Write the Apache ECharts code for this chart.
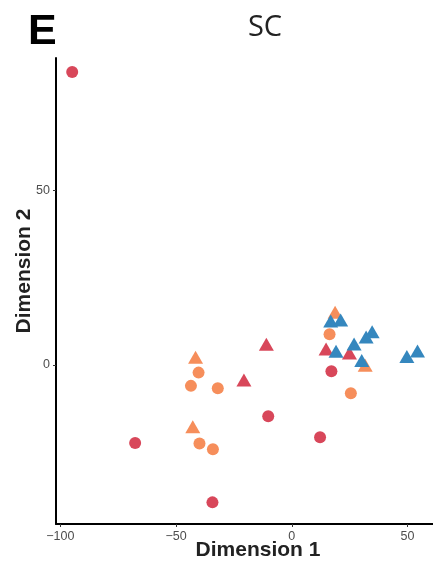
<!DOCTYPE html>
<html>
<head>
<meta charset="utf-8">
<script src="https://cdn.jsdelivr.net/npm/echarts@6/dist/echarts.min.js"></script>
<style>
  html, body { margin: 0; padding: 0; background: #fff; }
  #chart { width: 433px; height: 561px; }
</style>
</head>
<body>
<div id="chart"></div>
<script>
// Sample positions on the two MDS dimensions, grouped by colour and shape
const redCircles = [
  [-94.9, 84.0], [-67.7, -22.4], [-34.3, -39.4], [-10.2, -14.7],
  [12.2, -20.7], [17.1, -1.8]
];
const orangeCircles = [
  [-40.3, -2.2], [-43.6, -6.0], [-32.0, -6.7], [-39.9, -22.5],
  [-34.1, -24.2], [16.3, 8.8], [25.5, -8.1]
];
const redTriangles = [
  [-11.0, 5.9], [-20.7, -4.3], [14.8, 4.6], [24.9, 3.4]
];
const orangeTriangles = [
  [-41.6, 2.2], [-42.8, -17.7], [18.7, 15.1], [31.7, -0.1]
];
const blueTriangles = [
  [16.8, 12.6], [21.1, 12.9], [19.1, 3.9], [26.9, 6.0], [32.1, 8.0],
  [34.7, 9.5], [30.2, 1.3], [49.7, 2.4], [54.3, 4.0]
];

const xTicks = [-100, -50, 0, 50];
const yTicks = [0, 50];

const RED = '#d8475a';
const ORANGE = '#f68e5b';
const BLUE = '#3587be';

const minusFmt = v => (v < 0 ? '\u2212' + Math.abs(v) : String(v));

const chart = echarts.init(document.getElementById('chart'), null, { renderer: 'canvas' });

function scatter(data, symbol, color, size) {
  return {
    type: 'scatter',
    data: data,
    symbol: symbol,
    symbolSize: size,
    itemStyle: { color: color, opacity: 1 },
    emphasis: { disabled: true },
    animation: false
  };
}

const tickLabel = { color: '#4d4d4d', fontSize: 12.5, fontFamily: 'Liberation Sans, Arial, sans-serif' };

chart.setOption({
  backgroundColor: '#fff',
  animation: false,
  grid: { left: 56, right: 0, top: 58, bottom: 37, containLabel: false },
  xAxis: {
    type: 'value',
    min: -101.9,
    max: 61.0,
    splitLine: { show: false },
    axisLine: { show: true, onZero: false, lineStyle: { color: '#000', width: 2 } },
    axisTick: { show: true, customValues: xTicks, length: 3, lineStyle: { color: '#333', width: 1 } },
    axisLabel: Object.assign({ customValues: xTicks, margin: 6, formatter: minusFmt }, tickLabel)
  },
  yAxis: {
    type: 'value',
    min: -45.6,
    max: 88.0,
    splitLine: { show: false },
    axisLine: { show: true, onZero: false, lineStyle: { color: '#000', width: 2 } },
    axisTick: { show: true, customValues: yTicks, length: 3, lineStyle: { color: '#333', width: 1 } },
    axisLabel: Object.assign({ customValues: yTicks, margin: 6, formatter: minusFmt }, tickLabel)
  },
  series: [
    scatter(redCircles, 'circle', RED, 12),
    scatter(orangeCircles, 'circle', ORANGE, 12),
    scatter(redTriangles, 'triangle', RED, [15, 13]),
    scatter(orangeTriangles, 'triangle', ORANGE, [15, 13]),
    scatter(blueTriangles, 'triangle', BLUE, [15, 13])
  ],
  graphic: [
    {
      type: 'text', x: 28, y: 32,
      style: { text: 'E', font: 'bold 43px "Liberation Sans", Arial, sans-serif', fill: '#000', textAlign: 'left', textVerticalAlign: 'middle' }
    },
    {
      type: 'text', x: 265, y: 28,
      style: { text: 'SC', font: '29px "Open Sans", sans-serif', fill: '#222', textAlign: 'center', textVerticalAlign: 'middle' }
    },
    {
      type: 'text', x: 258, y: 550,
      style: { text: 'Dimension 1', font: 'bold 21px "Liberation Sans", Arial, sans-serif', fill: '#222', textAlign: 'center', textVerticalAlign: 'middle' }
    },
    {
      type: 'text', x: 24, y: 271, rotation: Math.PI / 2,
      style: { text: 'Dimension 2', font: 'bold 21px "Liberation Sans", Arial, sans-serif', fill: '#222', textAlign: 'center', textVerticalAlign: 'middle' }
    }
  ]
});
</script>
</body>
</html>
